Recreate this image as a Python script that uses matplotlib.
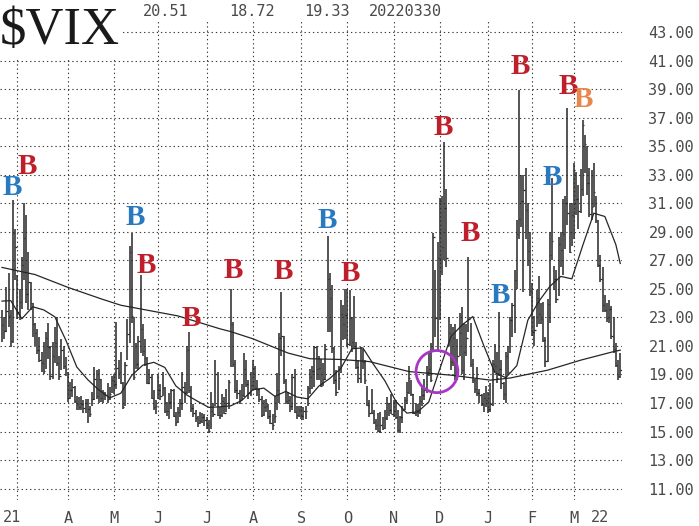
import numpy as np
import pandas as pd
import matplotlib
matplotlib.use("Agg")
import matplotlib.pyplot as plt
from matplotlib.patches import Ellipse

# ---------------- data ----------------
holidays = ["2021-04-02", "2021-05-31", "2021-07-05", "2021-09-06",
            "2021-11-25", "2021-12-24", "2022-01-17", "2022-02-21"]
start_date = "2021-02-18"
end_date = "2022-03-30"

closes = [
    22.49, 22.05, 23.45, 23.11, 21.34, 28.89, 27.95,
    23.35, 24.10, 26.67, 28.57, 24.66, 25.47, 24.03, 22.56, 21.91, 20.69, 20.03, 19.79, 19.23, 21.58, 20.95, 18.88, 20.30, 21.20, 19.81, 18.86, 20.74, 19.61, 19.40,
    17.33, 17.91, 18.12, 17.16, 16.95, 16.69, 16.91, 16.65, 16.99, 16.57, 16.25, 17.29, 18.68, 17.50, 18.71, 17.33, 17.64, 17.56, 17.28, 17.61, 18.61,
    18.31, 19.48, 19.15, 18.39, 16.69, 19.66, 21.84, 27.59, 23.13, 18.81, 19.72, 21.34, 22.18, 20.67, 20.15, 18.40, 18.84, 17.36, 16.74, 16.76,
    17.90, 17.48, 18.04, 16.42, 16.42, 17.07, 17.89, 16.10, 15.65, 16.39, 17.02, 18.15, 17.75, 20.70, 17.89, 16.66, 16.32, 15.97, 15.62, 15.76, 16.02, 15.83,
    15.48, 15.07, 16.44, 16.20, 19.00, 16.18, 16.17, 17.12, 16.33, 17.01, 18.45, 22.50, 19.73, 17.91, 17.69, 17.20, 17.58, 19.36, 18.31, 17.70, 18.24,
    19.46, 18.04, 17.97, 17.28, 16.15, 16.72, 16.79, 16.06, 15.59, 15.45, 16.12, 17.91, 21.57, 21.67, 18.56, 17.15, 17.22, 16.79, 18.84, 16.39, 16.15, 16.48,
    16.11, 16.41, 16.41, 18.08, 18.80, 19.25, 20.95, 19.37, 19.46, 18.18, 18.69, 20.81, 25.71, 24.36, 20.87, 18.63, 17.75, 18.76, 23.25, 22.56, 23.14,
    21.15, 22.96, 21.30, 21.00, 19.54, 18.77, 20.00, 19.85, 18.64, 16.86, 16.30, 16.30, 15.70, 15.49, 15.01, 15.43, 15.24, 15.98, 16.98, 16.53, 16.26,
    16.41, 16.03, 15.10, 16.03, 16.48, 17.22, 17.78, 18.73, 17.66, 16.29, 16.49, 16.37, 17.11, 17.59, 17.91, 19.17, 19.38, 18.58, 28.62, 22.96, 27.19,
    31.12, 27.95, 30.67, 27.18, 21.89, 19.90, 21.58, 18.69, 20.31, 21.89, 19.29, 20.57, 21.57, 22.87, 19.70, 18.63, 17.96, 17.68, 17.54, 16.95, 17.33, 17.22,
    16.60, 16.91, 19.73, 19.61, 18.76, 19.40, 18.41, 17.62, 20.31, 19.19, 22.79, 23.85, 25.59, 28.85, 29.90, 31.16, 31.96, 30.49, 27.66, 24.83,
    21.96, 22.09, 24.35, 23.22, 22.86, 21.44, 19.96, 23.91, 27.36, 28.33, 25.70, 24.29, 28.11, 27.75, 28.81, 31.02, 30.32, 27.59, 30.15,
    33.32, 31.30, 30.48, 31.98, 36.45, 35.13, 32.45, 30.23, 30.75, 31.77, 29.83, 26.67, 25.67, 23.87, 23.53, 22.94, 23.57, 21.67, 20.81, 19.63, 18.90, 19.33,
]

highs = [
    23.5, 23.0, 25.1, 26.1, 23.5, 31.2, 29.2,
    26.0, 25.0, 27.2, 31.0, 30.2, 27.6, 25.5, 24.0, 22.6, 22.2, 21.6, 20.6, 21.3, 22.0, 22.6, 21.0, 21.3, 22.3, 23.0, 20.3, 21.5, 21.0, 20.2,
    19.2, 18.5, 18.7, 18.2, 17.5, 17.4, 17.5, 17.2, 17.3, 17.3, 16.8, 17.8, 19.5, 19.3, 19.4, 18.7, 17.9, 17.8, 18.4, 18.1, 18.9,
    19.0, 22.7, 20.0, 20.6, 18.5, 19.9, 22.9, 28.0, 28.9, 23.0, 21.2, 21.7, 26.0, 22.5, 21.5, 20.2, 19.4, 19.0, 17.9, 17.2,
    19.0, 18.3, 19.2, 18.1, 17.1, 17.7, 18.0, 18.0, 16.4, 16.7, 17.3, 19.2, 18.5, 21.0, 22.0, 18.2, 16.9, 16.5, 16.1, 16.4, 16.3, 16.2,
    16.0, 15.8, 17.8, 17.0, 20.0, 19.2, 16.7, 17.6, 17.4, 18.0, 18.6, 25.0, 22.7, 20.0, 18.6, 17.9, 18.3, 20.5, 20.0, 18.6, 19.2,
    20.0, 19.6, 18.6, 18.0, 17.5, 17.2, 17.3, 16.9, 16.5, 16.2, 17.5, 19.1, 21.9, 24.8, 21.7, 18.7, 17.8, 17.5, 19.0, 19.4, 16.8, 16.8,
    16.8, 16.7, 16.8, 18.2, 19.4, 19.6, 21.0, 21.0, 20.3, 20.1, 19.8, 21.1, 28.7, 26.1, 25.3, 20.9, 19.3, 19.6, 24.2, 23.9, 25.0,
    25.0, 24.9, 23.0, 24.5, 21.3, 20.0, 20.9, 20.8, 20.0, 18.2, 17.2, 18.0, 16.5, 15.9, 16.3, 16.4, 16.0, 16.5, 17.4, 17.0, 17.6,
    17.2, 17.2, 16.5, 16.1, 16.8, 17.4, 18.5, 19.6, 18.6, 17.6, 17.0, 16.9, 17.5, 18.1, 18.7, 19.6, 20.6, 21.2, 28.9, 26.3, 28.3,
    31.4, 31.5, 35.3, 32.0, 23.0, 22.5, 22.3, 22.5, 21.5, 23.3, 23.7, 22.6, 22.5, 27.2, 22.6, 20.1, 18.7, 19.5, 18.0, 17.6, 17.7, 18.2,
    17.8, 18.4, 20.0, 21.1, 20.6, 23.4, 20.0, 18.5, 20.6, 21.0, 23.0, 24.0, 26.3, 29.8, 38.9, 33.0, 33.0, 33.5, 31.0, 29.0,
    25.4, 23.1, 24.9, 25.9, 24.0, 24.1, 21.6, 24.3, 29.0, 32.8, 26.6, 26.3, 28.6, 29.0, 31.3, 31.5, 37.7, 31.0, 31.0,
    33.8, 33.2, 32.3, 33.4, 36.8, 35.8, 35.0, 33.5, 33.3, 33.8, 31.5, 29.8, 27.4, 26.5, 24.6, 24.0, 24.2, 23.8, 23.0, 21.2, 20.0, 20.51,
]

lows = [
    21.3, 21.5, 22.0, 22.3, 20.9, 21.2, 25.6,
    22.9, 22.8, 23.6, 25.6, 24.0, 23.5, 23.5, 21.6, 21.0, 20.4, 19.9, 19.2, 19.0, 19.4, 20.1, 18.6, 18.7, 19.8, 19.6, 18.6, 19.3, 19.4, 18.9,
    17.1, 17.3, 17.4, 17.0, 16.5, 16.5, 16.5, 16.3, 16.3, 15.6, 16.0, 16.8, 17.2, 17.3, 17.0, 17.1, 17.0, 17.2, 17.0, 17.2, 17.7,
    17.6, 18.0, 18.7, 18.3, 16.6, 16.8, 20.0, 21.2, 22.6, 18.6, 19.4, 19.3, 20.5, 20.3, 19.6, 18.3, 18.3, 17.3, 16.5, 16.2,
    17.3, 17.2, 17.5, 16.3, 16.1, 15.9, 16.6, 16.0, 15.4, 15.6, 16.0, 16.5, 17.0, 17.6, 17.7, 16.4, 16.0, 15.7, 15.3, 15.5, 15.6, 15.4,
    15.2, 14.9, 15.2, 16.0, 16.8, 16.1, 15.9, 16.0, 16.2, 16.4, 16.6, 19.5, 19.5, 17.7, 17.3, 16.9, 17.2, 17.4, 18.1, 17.3, 17.5,
    17.9, 17.9, 17.5, 17.1, 16.0, 16.1, 16.4, 15.9, 15.5, 15.1, 15.6, 16.5, 17.0, 20.3, 18.3, 16.9, 16.9, 16.4, 16.5, 16.3, 15.9, 16.0,
    15.9, 15.8, 15.9, 16.8, 17.6, 18.0, 18.1, 18.6, 18.6, 18.1, 18.2, 18.6, 22.0, 22.0, 20.5, 18.3, 17.5, 17.9, 19.1, 21.4, 21.5,
    20.9, 21.0, 20.6, 20.8, 19.4, 18.4, 18.4, 19.4, 18.3, 16.8, 16.0, 16.2, 15.5, 15.1, 15.0, 14.9, 15.1, 15.2, 15.8, 16.1, 16.2,
    16.0, 15.9, 15.0, 14.9, 15.6, 16.5, 16.9, 17.6, 17.5, 16.2, 16.1, 16.0, 16.2, 16.8, 17.2, 17.7, 18.9, 18.5, 20.7, 21.6, 20.7,
    22.8, 26.0, 27.0, 26.5, 21.0, 19.3, 19.6, 18.6, 18.6, 20.3, 19.0, 18.6, 20.3, 22.0, 19.5, 18.4, 17.7, 17.5, 17.0, 16.8, 16.4, 16.7,
    16.3, 16.4, 16.8, 19.2, 18.4, 18.9, 18.0, 17.2, 17.0, 19.0, 20.5, 21.6, 21.9, 25.0, 28.5, 29.3, 24.8, 28.5, 26.6, 24.5,
    21.7, 21.0, 22.3, 22.5, 22.5, 21.3, 19.5, 19.9, 22.6, 27.0, 24.9, 24.0, 24.5, 26.5, 26.0, 27.8, 29.5, 27.5, 28.0,
    28.5, 30.2, 29.2, 30.3, 31.5, 33.1, 31.6, 30.0, 29.8, 30.7, 29.6, 26.5, 25.5, 23.4, 23.4, 22.7, 22.6, 21.5, 20.5, 19.5, 18.6, 18.72,
]

# 20-day moving average (bar index, value)
ma20_idx = [0] + list(range(4, 280, 5)) + [281]
ma20_val = [24.14, 24.17, 22.90, 23.74, 23.52, 23.04, 21.41, 19.52, 18.63, 17.91, 17.36,
            17.68, 18.94, 19.65, 19.85, 19.49, 18.20, 17.56, 17.11, 16.69, 16.73,
            16.80, 17.18, 17.93, 18.04, 17.47, 17.81, 17.42, 17.29, 18.18, 18.72,
            19.42, 20.80, 20.86, 19.67, 18.56, 17.12, 16.29, 16.38, 17.08, 19.39,
            21.64, 22.45, 23.06, 21.01, 19.13, 18.77, 19.62, 22.80, 24.12, 25.17,
            25.87, 25.70, 28.06, 30.30, 30.07, 28.10, 26.78]

# 200-day moving average (bar index, value)
ma200_idx = [0, 15, 30, 45, 54, 80, 99, 104, 114, 130, 140, 154, 167, 185, 204, 222, 231, 248, 263, 278, 281]
ma200_val = [26.5, 26.0, 25.1, 24.3, 23.85, 23.1, 22.2, 22.0, 21.5, 20.5, 20.1, 20.05, 19.9, 19.2, 18.95, 18.6, 18.75, 19.3, 20.0, 20.6, 20.7]

# "B" signal markers (bar index, level, colour)
sig_idx = [4.5, 11.4, 60.5, 65.5, 85.9, 105.0, 127.7, 147.7, 158.2, 200.5, 212.7, 226.4, 235.5, 250.0, 257.3, 264.1]
sig_val = [32.1, 33.6, 30.0, 26.6, 22.9, 26.25, 26.2, 29.8, 26.1, 36.3, 28.9, 24.5, 40.55, 32.8, 39.15, 38.3]
sig_col = ["blue", "red", "blue", "red", "red", "red", "red", "blue", "red", "red", "red", "blue", "red", "blue", "red", "orange"]

header_values = ["20.51", "18.72", "19.33", "20220330"]
month_letters = ["J", "F", "M", "A", "M", "J", "J", "A", "S", "O", "N", "D"]
year_labels = ["21", "22"]
y_ticks = list(range(11, 44, 2))

# ---------------- figure ----------------
W, H = 699, 526
fig = plt.figure(figsize=(W / 100, H / 100), dpi=100)
fig.patch.set_facecolor("white")

def fx(px):
    return px / W

def fy(py):
    return 1 - py / H

ax_left, ax_right, ax_top, ax_bot = 0, 622, 20, 500
ax = fig.add_axes([fx(ax_left), fy(ax_bot), fx(ax_right - ax_left), (ax_bot - ax_top) / H])
ax.set_facecolor("white")

dates = pd.bdate_range(start_date, end_date)
dates = dates[~dates.isin(pd.to_datetime(holidays))]
x = np.arange(len(dates))

ax.set_xlim(-0.909, 281.8)
ax.set_ylim(10.20, 43.84)

grid_kw = dict(color="#3a3a3a", lw=0.8, ls=(0, (1.2, 2.6)), zorder=0)
for v in y_ticks:
    ax.axhline(v, **grid_kw)

months = pd.Series(dates.month)
month_start = [i for i in range(1, len(dates)) if months[i] != months[i - 1]]
for i in month_start:
    ax.axvline(i, **grid_kw)

# price bars (high-low with close tick)
ax.vlines(x, lows, highs, color="#262626", lw=1.1, zorder=2)
ax.hlines(closes, x, x + 0.6, color="#262626", lw=0.9, zorder=2)

# moving averages
ax.plot(ma20_idx, ma20_val, color="#262626", lw=0.9, zorder=3)
ax.plot(ma200_idx, ma200_val, color="#262626", lw=0.9, zorder=3)

# signals
palette = {"red": "#bf1f2a", "blue": "#2879c0", "orange": "#e8874c"}
for i, v, c in zip(sig_idx, sig_val, sig_col):
    ax.text(i, v, "B", color=palette[c], family="Liberation Serif", weight="bold",
            fontsize=21, ha="center", va="center", zorder=5)

# circle
ax.add_patch(Ellipse((197.7, 19.2), 19.0, 2.95, fill=False, edgecolor="#a835c4", lw=2.0, zorder=6))

# axes styling
for s in ax.spines.values():
    s.set_visible(False)
lab_kw = dict(family="DejaVu Sans Mono", fontsize=11, color="#4a4a4a")
ax.yaxis.tick_right()
ax.set_yticks(y_ticks)
ax.set_yticklabels([f"{v:.2f}" for v in y_ticks], **lab_kw)
ax.tick_params(axis="y", length=0, pad=19)
ax.set_xticks(month_start[1:])
ax.set_xticklabels([month_letters[dates[i].month - 1] for i in month_start[1:]], **lab_kw)
ax.tick_params(axis="x", length=0, pad=8)
for xi, s in zip([4.5, 272.0], year_labels):
    ax.text(xi, -0.02, s, transform=ax.get_xaxis_transform(), ha="center", va="top", **lab_kw)

# header
fig.text(fx(0), fy(31), "$VIX", family="Liberation Serif", fontsize=38, color="#1a1a1a",
         ha="left", va="center", bbox=dict(facecolor="white", edgecolor="none", pad=2), zorder=10)
for px, s in zip([166, 252, 327, 405], header_values):
    fig.text(fx(px), fy(12), s, ha="center", va="center", **lab_kw)

fig.savefig("out.png", dpi=100, facecolor="white")
